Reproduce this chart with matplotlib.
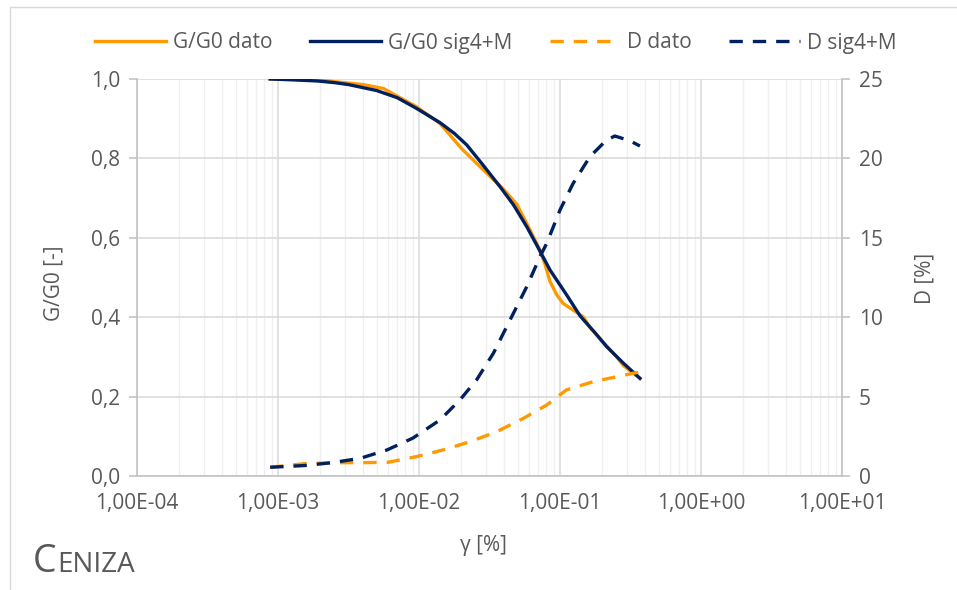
import matplotlib
matplotlib.use("Agg")
import matplotlib.pyplot as plt
from matplotlib.patches import Rectangle
from matplotlib.ticker import FixedLocator, FuncFormatter, NullFormatter

# strain gamma [%] and values
g_dato_x = [8.8e-4, 2.0e-3, 4.0e-3, 5.6e-3, 9.6e-3, 1.41e-2, 2.0e-2, 2.86e-2, 3.98e-2,
            4.93e-2, 5.81e-2, 7.21e-2, 7.8e-2, 8.49e-2, 9.5e-2, 0.105, 0.146, 0.165,
            0.252, 0.282, 0.369]
g_dato_y = [1.000, 0.997, 0.986, 0.976, 0.930, 0.888, 0.825, 0.771, 0.722,
            0.685, 0.636, 0.569, 0.535, 0.490, 0.456, 0.435, 0.401, 0.372,
            0.300, 0.278, 0.246]

g_fit_x = [8.8e-4, 1.26e-3, 1.9e-3, 2.5e-3, 3.16e-3, 5.0e-3, 7.0e-3, 9.6e-3, 1.41e-2,
           1.78e-2, 2.18e-2, 2.82e-2, 3.75e-2, 4.68e-2, 5.81e-2, 7.0e-2, 8.49e-2, 0.112,
           0.139, 0.178, 0.214, 0.282, 0.369]
g_fit_y = [1.000, 0.998, 0.995, 0.991, 0.986, 0.971, 0.953, 0.926, 0.890,
           0.863, 0.834, 0.785, 0.729, 0.683, 0.628, 0.575, 0.519, 0.455,
           0.403, 0.360, 0.326, 0.284, 0.246]

d_dato_x = [8.8e-4, 1.55e-3, 2.7e-3, 4.0e-3, 6.0e-3, 9.6e-3, 1.48e-2, 2.3e-2, 3.56e-2,
            5.5e-2, 8.05e-2, 0.111, 0.172, 0.330, 0.369]
d_dato_y = [0.55, 0.78, 0.84, 0.84, 0.86, 1.22, 1.64, 2.16, 2.79,
            3.63, 4.47, 5.42, 5.94, 6.47, 6.55]

d_fit_x = [8.8e-4, 1.55e-3, 2.42e-3, 3.82e-3, 5.93e-3, 9.06e-3, 1.41e-2, 1.95e-2, 2.56e-2,
           3.37e-2, 4.42e-2, 5.81e-2, 7.21e-2, 8.05e-2, 0.1, 0.124, 0.163, 0.214, 0.245, 0.313, 0.369]
d_fit_y = [0.55, 0.66, 0.84, 1.11, 1.64, 2.39, 3.53, 4.79, 6.05,
           7.73, 9.82, 11.92, 13.81, 14.65, 16.75, 18.43, 20.11, 21.16, 21.41, 21.11, 20.78]

x_ticks = [1e-4, 1e-3, 1e-2, 1e-1, 1e0, 1e1]
x_labels = ["1,00E-04", "1,00E-03", "1,00E-02", "1,00E-01", "1,00E+00", "1,00E+01"]

ORANGE = "#FF9900"
NAVY = "#002060"
TXT = "#595959"
FONT = ["Open Sans", "DejaVu Sans"]
FS = 15

plt.rcParams["font.family"] = FONT

fig = plt.figure(figsize=(9.57, 5.90), dpi=100)
ax = fig.add_axes([137 / 957, 1 - 476 / 590, (842 - 137) / 957, (476 - 79) / 590])
ax2 = ax.twinx()

l1, = ax.plot(g_dato_x, g_dato_y, color=ORANGE, lw=2.4, label="G/G0 dato", zorder=3)
l2, = ax.plot(g_fit_x, g_fit_y, color=NAVY, lw=2.4, label="G/G0 sig4+M", zorder=4)
l3, = ax2.plot(d_dato_x, d_dato_y, color=ORANGE, lw=2.4, ls=(0, (4, 3)), label="D dato")
l4, = ax2.plot(d_fit_x, d_fit_y, color=NAVY, lw=2.4, ls=(0, (4, 3)), label="D sig4+M")

ax.set_xscale("log")
ax.set_xlim(1e-4, 1e1)
ax.set_ylim(0, 1)
ax2.set_ylim(0, 25)

ax.xaxis.set_major_locator(FixedLocator(x_ticks))
ax.set_xticklabels(x_labels)
ax.xaxis.set_minor_formatter(NullFormatter())
ax.set_yticks([0, 0.2, 0.4, 0.6, 0.8, 1.0])
ax.yaxis.set_major_formatter(FuncFormatter(lambda v, p: f"{v:.1f}".replace(".", ",")))
ax2.set_yticks([0, 5, 10, 15, 20, 25])

ax.grid(True, which="major", color="#d9d9d9", lw=1.1)
ax.grid(True, which="minor", axis="x", color="#efefef", lw=0.9)
ax.set_axisbelow(True)

for a in (ax, ax2):
    for s in a.spines.values():
        s.set_visible(False)
ax.spines["left"].set_visible(True)
ax.spines["bottom"].set_visible(True)
ax2.spines["right"].set_visible(True)
for s in (ax.spines["left"], ax.spines["bottom"], ax2.spines["right"]):
    s.set_color("#bfbfbf")
    s.set_linewidth(1.1)

ax.tick_params(axis="x", which="both", length=0, labelsize=FS, labelcolor=TXT, pad=12)
ax.tick_params(axis="y", length=6, width=1.1, color="#bfbfbf", labelsize=FS, labelcolor=TXT, pad=6)
ax2.tick_params(axis="y", length=6, width=1.1, color="#bfbfbf", labelsize=FS, labelcolor=TXT, pad=6)

fig.text(483 / 957, 1 - 545 / 590, "γ [%]", ha="center", va="center", fontsize=FS, color=TXT)
fig.text(54 / 957, 1 - 283 / 590, "G/G0 [-]", ha="center", va="center", rotation=90,
         fontsize=FS, color=TXT)
fig.text(925 / 957, 1 - 278 / 590, "D [%]", ha="center", va="center", rotation=90,
         fontsize=FS, color=TXT)

fig.legend(handles=[l1, l2, l3, l4], loc="center", bbox_to_anchor=(496 / 957, 1 - 43 / 590),
           ncol=4, frameon=False, fontsize=FS, labelcolor=TXT, handlelength=3.4,
           handletextpad=0.33, columnspacing=1.8)

# small-caps style title
tc = fig.text(33 / 957, 1 - 572 / 590, "C", fontsize=27, color=TXT, va="baseline")
r = fig.canvas.get_renderer()
bb = tc.get_window_extent(renderer=r)
fig.text(bb.x1 / fig.bbox.width + 0.001, 1 - 572 / 590, "ENIZA", fontsize=20, color=TXT,
         va="baseline")

fig.patches.append(Rectangle((9.5 / 957, -0.1), 1.2, 1 - 7 / 590 + 0.1, transform=fig.transFigure,
                             fill=False, edgecolor="#d9d9d9", lw=1.0))

fig.savefig("out.png", dpi=100)
